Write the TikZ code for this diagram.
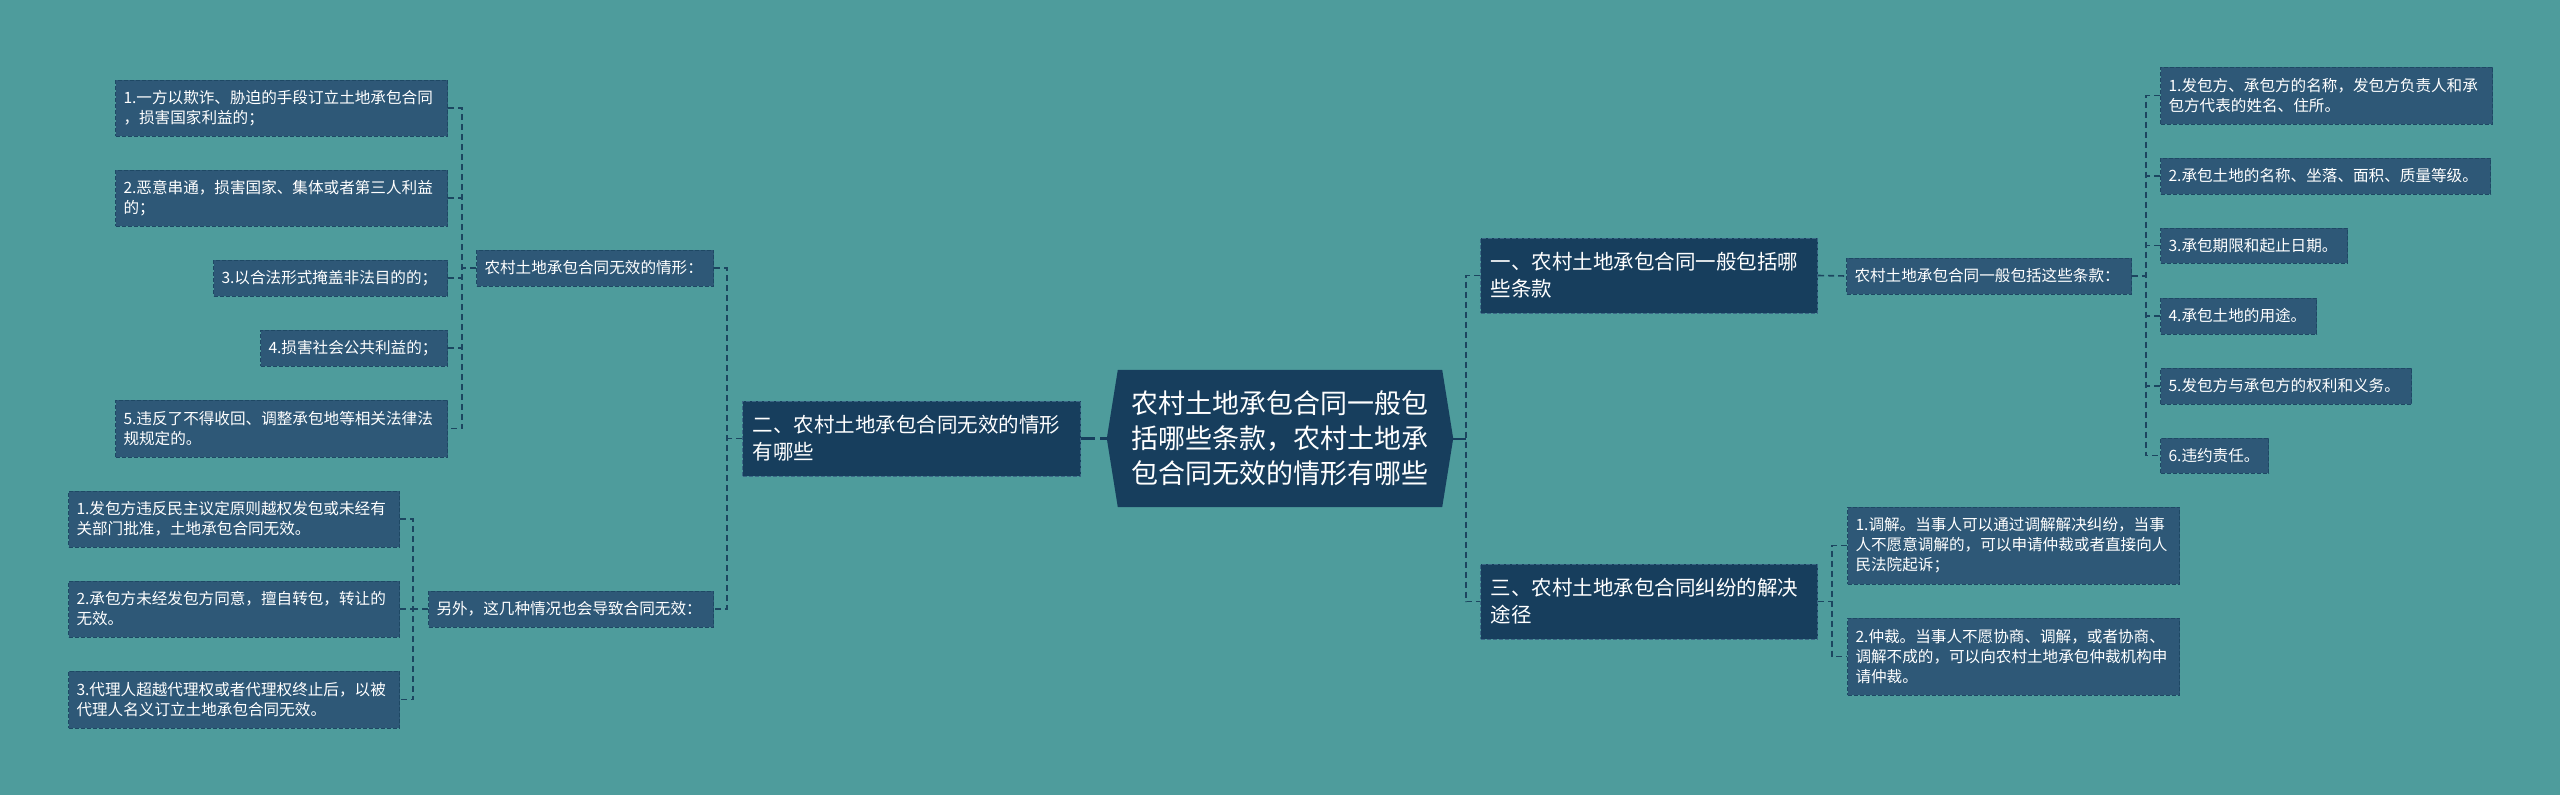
\documentclass[tikz,border=0pt]{standalone}
\usepackage{fontspec}
\setmainfont{Noto Sans CJK SC}
\usetikzlibrary{calc}
\definecolor{bgc}{HTML}{4E9C9C}
\definecolor{leaff}{HTML}{2E5877}
\definecolor{leafd}{HTML}{1E4864}
\definecolor{brf}{HTML}{173E5D}
\definecolor{brd}{HTML}{3A6785}
\definecolor{lnc}{HTML}{1C4660}
\pgfdeclarelayer{back}
\pgfsetlayers{back,main}
\begin{document}
\begin{tikzpicture}[x=1pt,y=-1pt,
  leafbox/.style={draw=leafd, dash pattern=on 4pt off 2pt, line width=1pt, fill=leaff, text=white,
    font=\fontsize{15.6}{20}\selectfont, align=left, inner xsep=8pt, inner ysep=0pt, anchor=west,
    minimum height=36pt},
  brbox/.style={draw=brd, dash pattern=on 4pt off 2pt, line width=1pt, fill=brf, text=white,
    font=\fontsize{20.5}{27}\selectfont, align=left, inner xsep=10pt, inner ysep=0pt, anchor=west,
    minimum height=75pt, text width=318pt},
  conn/.style={draw=lnc, line width=1.6pt, dash pattern=on 6pt off 4pt},
  mainconn/.style={draw=brf, line width=2.2pt, dash pattern=on 14pt off 5pt},
  solidconn/.style={draw=brf, line width=2pt}]
\useasboundingbox (0,0) rectangle (2560,795);
\begin{pgfonlayer}{back}
\fill[bgc] (0,0) rectangle (2560,795);
\end{pgfonlayer}

% vertical line positions
\coordinate (vL) at (462,0);
\coordinate (vM) at (413,0);
\coordinate (vB) at (727,0);
\coordinate (vR) at (1466,0);
\coordinate (vR1) at (2146,0);
\coordinate (vS) at (1832,0);

% left upper leaves
\node[leafbox, text width=316pt, minimum height=56pt] (L1) at (115,108) {1.一方以欺诈、胁迫的手段订立土地承包合同\\，损害国家利益的；};
\node[leafbox, text width=316pt, minimum height=56pt] (L2) at (115,198) {2.恶意串通，损害国家、集体或者第三人利益\\的；};
\node[leafbox, text width=218pt] (L3) at (213,278) {3.以合法形式掩盖非法目的的；};
\node[leafbox, text width=171pt] (L4) at (260,348) {4.损害社会公共利益的；};
\node[leafbox, text width=316pt, minimum height=57pt] (L5) at (115,428.5) {5.违反了不得收回、调整承包地等相关法律法\\规规定的。};
\node[leafbox, text width=221pt] (mid1) at (476,268) {农村土地承包合同无效的情形：};

% left lower leaves
\node[leafbox, text width=315pt, minimum height=56pt] (M1) at (68,519) {1.发包方违反民主议定原则越权发包或未经有\\关部门批准，土地承包合同无效。};
\node[leafbox, text width=315pt, minimum height=56pt] (M2) at (68,609) {2.承包方未经发包方同意，擅自转包，转让的\\无效。};
\node[leafbox, text width=315pt, minimum height=57pt] (M3) at (68,699.5) {3.代理人超越代理权或者代理权终止后，以被\\代理人名义订立土地承包合同无效。};
\node[leafbox, text width=269pt] (mid2) at (428,609) {另外，这几种情况也会导致合同无效：};

% branches
\node[brbox] (b2) at (742,438.5) {二、农村土地承包合同无效的情形\\有哪些};
\node[brbox, text width=317pt] (b1) at (1480,275.5) {一、农村土地承包合同一般包括哪\\些条款};
\node[brbox, text width=317pt] (b3) at (1480,601.5) {三、农村土地承包合同纠纷的解决\\途径};

% center
\node[minimum width=346pt, minimum height=137pt, inner sep=0pt, text=white, align=center,
  font=\fontsize{27}{35}\selectfont] (ctr) at (1280,438.5) {农村土地承包合同一般包\\括哪些条款，农村土地承\\包合同无效的情形有哪些};
\begin{pgfonlayer}{back}
\fill[brf] (ctr.west) -- ($(ctr.north west)+(11,0)$) -- ($(ctr.north east)+(-11,0)$) -- (ctr.east)
  -- ($(ctr.south east)+(-11,0)$) -- ($(ctr.south west)+(11,0)$) -- cycle;
\end{pgfonlayer}

% right upper
\node[leafbox, text width=269pt] (mid3) at (1846,276) {农村土地承包合同一般包括这些条款：};
\node[leafbox, text width=316pt, minimum height=57pt] (R1) at (2160,95.5) {1.发包方、承包方的名称，发包方负责人和承\\包方代表的姓名、住所。};
\node[leafbox, text width=314pt] (R2) at (2160,176) {2.承包土地的名称、坐落、面积、质量等级。};
\node[leafbox, text width=171pt, minimum height=35pt] (R3) at (2160,245.5) {3.承包期限和起止日期。};
\node[leafbox, text width=140pt] (R4) at (2160,316) {4.承包土地的用途。};
\node[leafbox, text width=235pt] (R5) at (2160,386) {5.发包方与承包方的权利和义务。};
\node[leafbox, text width=92pt, minimum height=35pt] (R6) at (2160,455.5) {6.违约责任。};

% right lower
\node[leafbox, text width=316pt, minimum height=77pt] (S1) at (1847,545.5) {1.调解。当事人可以通过调解解决纠纷，当事\\人不愿意调解的，可以申请仲裁或者直接向人\\民法院起诉；};
\node[leafbox, text width=316pt, minimum height=77pt] (S2) at (1847,656.5) {2.仲裁。当事人不愿协商、调解，或者协商、\\调解不成的，可以向农村土地承包仲裁机构申\\请仲裁。};

% connectors left upper
\draw[conn] (L1.east) -- (L1.east -| vL) -- (L5.east -| vL) -- (L5.east);
\foreach \n in {L2,L3,L4} \draw[conn] (\n.east) -- (\n.east -| vL);
\draw[conn] (mid1.west) -- (mid1.west -| vL);
% left lower
\draw[conn] (M1.east) -- (M1.east -| vM) -- (M3.east -| vM) -- (M3.east);
\draw[conn] (M2.east) -- (M2.east -| vM);
\draw[conn] (mid2.west) -- (mid2.west -| vM);
% mids to branch 2
\draw[conn] (mid1.east) -- (mid1.east -| vB) -- (mid2.east -| vB) -- (mid2.east);
\draw[conn] (b2.west) -- (b2.west -| vB);
% center
\draw[mainconn] (b2.east) -- (ctr.west);
\draw[solidconn] (ctr.east) -- (ctr.east -| vR);
\draw[conn] (b1.west) -- (b1.west -| vR) -- (b3.west -| vR) -- (b3.west);
% right
\draw[conn] (b1.east) -- (mid3.west);
\draw[conn] (R1.west) -- (R1.west -| vR1) -- (R6.west -| vR1) -- (R6.west);
\foreach \n in {R2,R3,R4,R5} \draw[conn] (\n.west) -- (\n.west -| vR1);
\draw[conn] (mid3.east) -- (mid3.east -| vR1);
\draw[conn] (S1.west) -- (S1.west -| vS) -- (S2.west -| vS) -- (S2.west);
\draw[conn] (b3.east) -- (b3.east -| vS);
\end{tikzpicture}
\end{document}
